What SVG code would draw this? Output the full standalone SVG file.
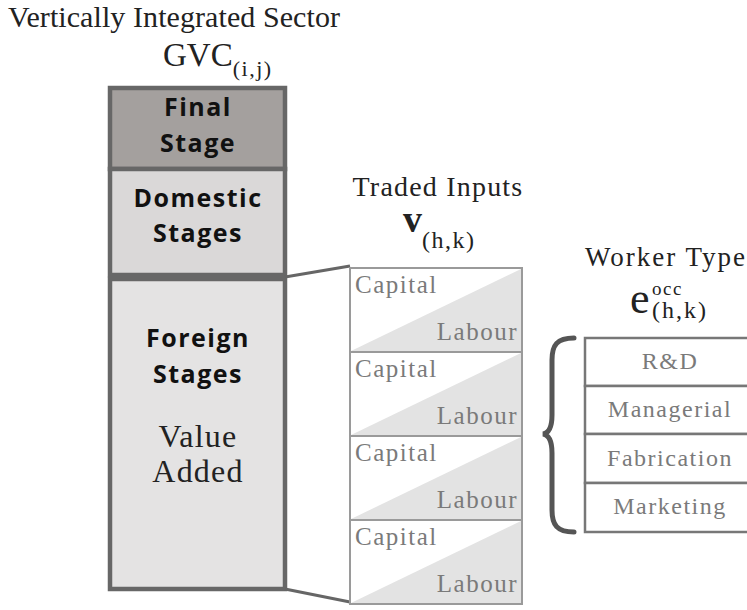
<svg xmlns="http://www.w3.org/2000/svg" width="747" height="610" viewBox="0 0 747 610">
<style>
text{font-family:"Liberation Serif","DejaVu Serif",serif;}
.dark{fill:#222;}
.stage{font-family:"Open Sans","Noto Sans","Liberation Sans",sans-serif;font-weight:700;font-size:25px;fill:#111;text-anchor:middle;letter-spacing:1.5px;}
.va{font-size:32px;fill:#222;text-anchor:middle;letter-spacing:1.2px;}
.col{stroke:#676767;stroke-width:4.5;}
.tbox{fill:#fff;stroke:#9a9a9a;stroke-width:2;}
.tri{fill:#e3e3e3;}
.tl{font-size:25px;fill:#7a7a7a;letter-spacing:1.5px;}
.wbox{fill:#fff;stroke:#777;stroke-width:2.5;}
.wl{font-size:24px;fill:#7a7a7a;text-anchor:middle;letter-spacing:1.5px;}
.conn{stroke:#666;stroke-width:3;fill:none;}
</style>
<g id="title">
<text class="dark" x="8" y="27" font-family="Liberation Serif, serif" font-size="30" textLength="332">Vertically Integrated Sector</text>
<text class="dark" x="163" y="66" font-family="Liberation Serif, serif" font-size="33">GVC<tspan font-size="22" dy="10" letter-spacing="1.5">(i,j)</tspan></text>
</g>
<g id="final-stage">
<rect class="col" x="110" y="88" width="175" height="81" fill="#a4a09e"/>
<text class="stage" x="198" y="116">Final</text>
<text class="stage" x="198" y="152">Stage</text>
</g>
<g id="domestic-stages">
<rect class="col" x="110" y="169" width="175" height="106" fill="#dad8d8"/>
<text class="stage" x="198" y="207">Domestic</text>
<text class="stage" x="198" y="242">Stages</text>
</g>
<g id="foreign-stages">
<rect class="col" x="110" y="279" width="175" height="310" fill="#e4e3e3"/>
<text class="stage" x="198" y="347">Foreign</text>
<text class="stage" x="198" y="383">Stages</text>
<text class="va" x="198" y="447" font-family="Liberation Serif, serif">Value</text>
<text class="va" x="198" y="482" font-family="Liberation Serif, serif">Added</text>
</g>
<g id="connectors">
<line class="conn" x1="285" y1="277" x2="350" y2="266"/>
<line class="conn" x1="285" y1="589" x2="350" y2="602"/>
<path d="M574,338 C557,338 552,345 552,360 L552,415 C552,428 549,433 543,434 C549,435 552,440 552,453 L552,510 C552,525 557,532 574,532" fill="none" stroke="#555" stroke-width="5" stroke-linecap="round"/>
</g>
<g id="traded-inputs-title">
<text class="dark" x="438" y="196" font-family="Liberation Serif, serif" font-size="28" text-anchor="middle" letter-spacing="1.2">Traded Inputs</text>
<text class="dark" x="403" y="232" font-family="Liberation Serif, serif" font-size="38" font-weight="700">v<tspan font-size="24" font-weight="400" dy="16" letter-spacing="1.5">(h,k)</tspan></text>
</g>
<g id="traded-1">
<rect class="tbox" x="350" y="268" width="172" height="84"/>
<polygon class="tri" points="351,351 521,351 521,269"/>
<text class="tl" x="355" y="293" font-family="Liberation Serif, serif">Capital</text>
<text class="tl" x="518" y="340" text-anchor="end" font-family="Liberation Serif, serif">Labour</text>
</g>
<g id="traded-2">
<rect class="tbox" x="350" y="352" width="172" height="84"/>
<polygon class="tri" points="351,435 521,435 521,353"/>
<text class="tl" x="355" y="377" font-family="Liberation Serif, serif">Capital</text>
<text class="tl" x="518" y="424" text-anchor="end" font-family="Liberation Serif, serif">Labour</text>
</g>
<g id="traded-3">
<rect class="tbox" x="350" y="436" width="172" height="84"/>
<polygon class="tri" points="351,519 521,519 521,437"/>
<text class="tl" x="355" y="461" font-family="Liberation Serif, serif">Capital</text>
<text class="tl" x="518" y="508" text-anchor="end" font-family="Liberation Serif, serif">Labour</text>
</g>
<g id="traded-4">
<rect class="tbox" x="350" y="520" width="172" height="84"/>
<polygon class="tri" points="351,603 521,603 521,521"/>
<text class="tl" x="355" y="545" font-family="Liberation Serif, serif">Capital</text>
<text class="tl" x="518" y="592" text-anchor="end" font-family="Liberation Serif, serif">Labour</text>
</g>
<g id="worker-type-title">
<text class="dark" x="585" y="266" font-family="Liberation Serif, serif" font-size="27" textLength="160">Worker Type</text>
<text class="dark" x="630" y="313" font-family="Liberation Serif, serif" font-size="44">e</text>
<text class="dark" x="652" y="295" font-family="Liberation Serif, serif" font-size="19" letter-spacing="1.5">occ</text>
<text class="dark" x="652" y="318" font-family="Liberation Serif, serif" font-size="24" letter-spacing="2">(h,k)</text>
</g>
<g id="worker-rd">
<rect class="wbox" x="585" y="338" width="170" height="48"/>
<text class="wl" x="670" y="369" font-family="Liberation Serif, serif" letter-spacing="3">R&amp;D</text>
</g>
<g id="worker-managerial">
<rect class="wbox" x="585" y="386" width="170" height="48"/>
<text class="wl" x="670" y="417" font-family="Liberation Serif, serif">Managerial</text>
</g>
<g id="worker-fabrication">
<rect class="wbox" x="585" y="434" width="170" height="49"/>
<text class="wl" x="670" y="466" font-family="Liberation Serif, serif">Fabrication</text>
</g>
<g id="worker-marketing">
<rect class="wbox" x="585" y="483" width="170" height="49"/>
<text class="wl" x="670" y="514" font-family="Liberation Serif, serif">Marketing</text>
</g>
</svg>
